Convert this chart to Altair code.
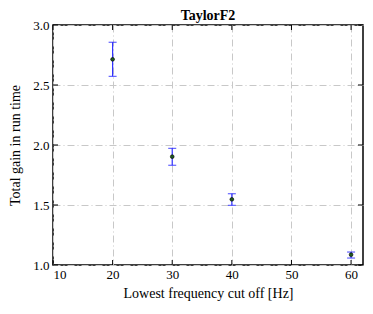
import altair as alt
import pandas as pd

cutoff = [20, 30, 40, 60]
gain = [2.714, 1.903, 1.547, 1.086]
upper = [2.856, 1.972, 1.594, 1.108]
lower = [2.572, 1.831, 1.497, 1.058]
xticks = [10, 20, 30, 40, 50, 60]
yticks = [1.0, 1.5, 2.0, 2.5, 3.0]

df = pd.DataFrame({"x": cutoff, "y": gain, "hi": upper, "lo": lower})
dx = pd.DataFrame({"t": xticks})
dy = pd.DataFrame({"t": yticks})

FONT = "Liberation Serif"
xs = alt.Scale(domain=[10, 62], nice=False, zero=False)
ys = alt.Scale(domain=[1.0, 3.0], nice=False, zero=False)

common = dict(grid=True, gridDash=[7, 3, 1, 3], gridColor="#c8c8c8",
              ticks=False, domain=False, labelFont=FONT, titleFont=FONT,
              labelFontSize=13, titleFontSize=14, labelColor="black",
              titleColor="black", titleFontWeight="normal")
xax = alt.Axis(values=xticks, format="d", title="Lowest frequency cut off [Hz]",
               labelPadding=3, titlePadding=5, **common)
yax = alt.Axis(values=yticks, format=".1f", title="Total gain in run time",
               labelPadding=4, titlePadding=10, **common)

base = alt.Chart(df)
bars = base.mark_rule(color="#3030ff", strokeWidth=1.2).encode(
    x=alt.X("x:Q", scale=xs, axis=xax),
    y=alt.Y("lo:Q", scale=ys, axis=yax),
    y2="hi:Q",
)
cap_hi = base.mark_tick(color="#2020ff", orient="horizontal", size=8, thickness=1.2).encode(
    x=alt.X("x:Q", scale=xs), y=alt.Y("hi:Q", scale=ys))
cap_lo = base.mark_tick(color="#2020ff", orient="horizontal", size=8, thickness=1.2).encode(
    x=alt.X("x:Q", scale=xs), y=alt.Y("lo:Q", scale=ys))
pts = base.mark_point(filled=True, color="#1f5a1f", stroke="black", strokeWidth=0.6,
                      size=14, opacity=1).encode(
    x=alt.X("x:Q", scale=xs), y=alt.Y("y:Q", scale=ys))

tk = dict(color="black", strokeWidth=1)
tb = alt.Chart(dx).mark_rule(**tk).encode(x=alt.X("t:Q", scale=xs), y=alt.value(240), y2=alt.value(235))
tt = alt.Chart(dx).mark_rule(**tk).encode(x=alt.X("t:Q", scale=xs), y=alt.value(0), y2=alt.value(5))
tl = alt.Chart(dy).mark_rule(**tk).encode(y=alt.Y("t:Q", scale=ys), x=alt.value(0), x2=alt.value(5))
tr = alt.Chart(dy).mark_rule(**tk).encode(y=alt.Y("t:Q", scale=ys), x=alt.value(310), x2=alt.value(305))

chart = alt.layer(bars, cap_hi, cap_lo, pts, tb, tt, tl, tr).properties(
    width=310, height=240,
    title=alt.TitleParams("TaylorF2", font=FONT, fontSize=14, fontWeight="bold",
                          color="black", offset=0, dy=4),
    autosize=alt.AutoSizeParams(type="none"),
    padding={"left": 45, "top": 17, "right": 2, "bottom": 41},
).configure(font=FONT).configure_view(stroke="black", strokeWidth=1.5)

chart.save("out.html", embed_options={"renderer": "svg", "actions": False})
